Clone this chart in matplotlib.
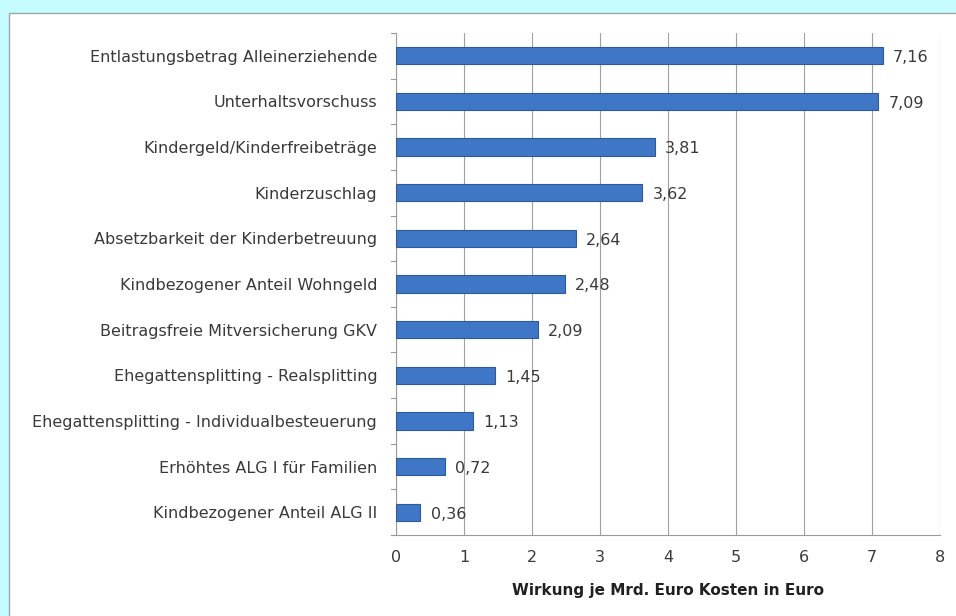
import matplotlib
matplotlib.use("Agg")
import matplotlib.pyplot as plt
from matplotlib.patches import Rectangle

categories = [
    "Entlastungsbetrag Alleinerziehende",
    "Unterhaltsvorschuss",
    "Kindergeld/Kinderfreibeträge",
    "Kinderzuschlag",
    "Absetzbarkeit der Kinderbetreuung",
    "Kindbezogener Anteil Wohngeld",
    "Beitragsfreie Mitversicherung GKV",
    "Ehegattensplitting - Realsplitting",
    "Ehegattensplitting - Individualbesteuerung",
    "Erhöhtes ALG I für Familien",
    "Kindbezogener Anteil ALG II",
]
values = [7.16, 7.09, 3.81, 3.62, 2.64, 2.48, 2.09, 1.45, 1.13, 0.72, 0.36]
x_ticks = [0, 1, 2, 3, 4, 5, 6, 7, 8]
x_label = "Wirkung je Mrd. Euro Kosten in Euro"

plt.rcParams["font.family"] = ["DejaVu Sans"]
text_color = "#3a3a3a"
fs = 11.5

fig = plt.figure(figsize=(9.56, 6.16), dpi=100)
fig.patch.set_facecolor("#c6fbfd")

# white chart panel with thin border
W, H = 956, 616
panel = Rectangle((9 / W, -0.01), 1.0, 1 - 13 / H + 0.01, transform=fig.transFigure,
                  facecolor="white", edgecolor="#9aa8aa", linewidth=1.0, zorder=-5)
fig.patches.append(panel)

ax = fig.add_axes([396 / W, 1 - 535 / H, (940 - 396) / W, (535 - 33) / H])
ax.set_zorder(2)
ax.set_facecolor("white")

y = list(range(len(categories)))
ax.barh(y, values, height=0.38, color="#3f76c6", edgecolor="#2c5a9c",
        linewidth=0.8, zorder=3)

for yi, v in zip(y, values):
    ax.text(v + 0.15, yi + 0.04, f"{v:.2f}".replace(".", ","), va="center", ha="left",
            fontsize=fs, color=text_color)

ax.set_xlim(0, 8)
ax.set_ylim(len(categories) - 0.5, -0.5)
ax.set_xticks(x_ticks)
ax.set_xticklabels([str(t) for t in x_ticks], fontsize=fs, color=text_color)
ax.set_yticks(y)
ax.set_yticklabels(categories, fontsize=fs, color=text_color)
ax.tick_params(axis="x", length=0, pad=11)
ax.tick_params(axis="y", length=0, pad=13.5)

# category boundary tick marks on the value axis
for b in [i - 0.5 for i in range(len(categories) + 1)]:
    ax.plot([-0.07, 0], [b, b], color="#9a9a9a", linewidth=0.8, clip_on=False, zorder=4)

ax.grid(axis="x", color="#a0a0a0", linewidth=0.8, zorder=0)
for s in ["top", "right"]:
    ax.spines[s].set_visible(False)
ax.spines["left"].set_color("#9a9a9a")
ax.spines["bottom"].set_color("#9a9a9a")
ax.spines["left"].set_linewidth(0.8)
ax.spines["bottom"].set_linewidth(0.8)

ax.set_xlabel(x_label, fontsize=11, fontweight="bold", color="#202020", labelpad=13)

fig.savefig("out.png", dpi=100, facecolor=fig.get_facecolor())
